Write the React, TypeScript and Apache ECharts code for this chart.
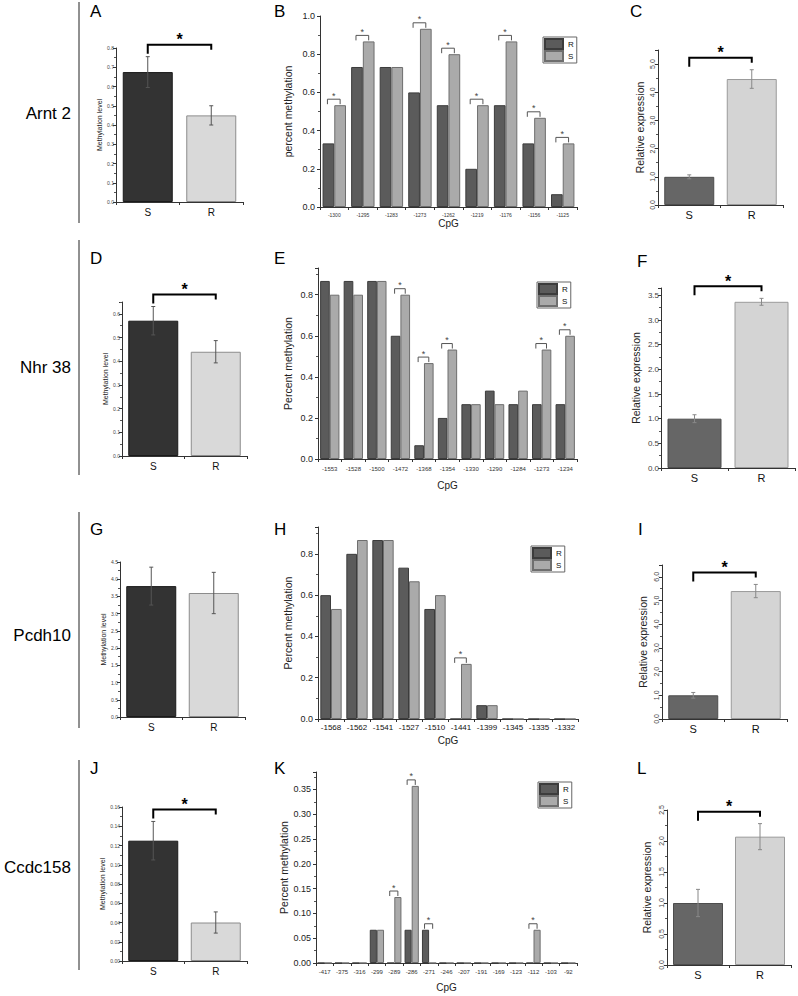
import React, { useEffect, useRef } from 'react';
import * as echarts from 'echarts';

const FONT = '"Liberation Sans", Arial, Helvetica, sans-serif';

// ---------- data ----------
const groups = ['S', 'R'];
const geneNames = ['Arnt 2', 'Nhr 38', 'Pcdh10', 'Ccdc158'];
const panelLetters = ['A', 'B', 'C', 'D', 'E', 'F', 'G', 'H', 'I', 'J', 'K', 'L'];

// Arnt 2
const arnt2Meth = [0.675, 0.45];
const arnt2MethErr = [0.08, 0.05];
const arnt2CpG = ['-1300', '-1295', '-1283', '-1273', '-1262', '-1219', '-1176', '-1156', '-1125'];
const arnt2R = [0.333, 0.733, 0.733, 0.6, 0.533, 0.2, 0.533, 0.333, 0.067];
const arnt2S = [0.533, 0.867, 0.733, 0.933, 0.8, 0.533, 0.867, 0.467, 0.333];
const arnt2Sig = ['-1300', '-1295', '-1273', '-1262', '-1219', '-1176', '-1156', '-1125'];
const arnt2Expr = [1.0, 4.47];
const arnt2ExprErr = [0.07, 0.33];

// Nhr 38
const nhr38Meth = [0.571, 0.44];
const nhr38MethErr = [0.06, 0.047];
const nhr38CpG = ['-1553', '-1528', '-1500', '-1472', '-1368', '-1354', '-1330', '-1290', '-1284', '-1273', '-1234'];
const nhr38R = [0.867, 0.867, 0.867, 0.6, 0.067, 0.2, 0.267, 0.333, 0.267, 0.267, 0.267];
const nhr38S = [0.8, 0.8, 0.867, 0.8, 0.467, 0.533, 0.267, 0.267, 0.333, 0.533, 0.6];
const nhr38Sig = ['-1472', '-1368', '-1354', '-1273', '-1234'];
const nhr38Expr = [1.0, 3.37];
const nhr38ExprErr = [0.08, 0.07];

// Pcdh10
const pcdh10Meth = [3.8, 3.6];
const pcdh10MethErr = [0.55, 0.6];
const pcdh10CpG = ['-1568', '-1562', '-1541', '-1527', '-1510', '-1441', '-1399', '-1345', '-1335', '-1332'];
const pcdh10R = [0.6, 0.8, 0.867, 0.733, 0.533, 0, 0.067, 0, 0, 0];
const pcdh10S = [0.533, 0.867, 0.867, 0.667, 0.6, 0.267, 0.067, 0, 0, 0];
const pcdh10Sig = ['-1441'];
const pcdh10Expr = [1.0, 5.4];
const pcdh10ExprErr = [0.12, 0.28];

// Ccdc158
const ccdc158Meth = [0.125, 0.04];
const ccdc158MethErr = [0.02, 0.011];
const ccdc158CpG = ['-417', '-375', '-316', '-299', '-289', '-286', '-271', '-246', '-207', '-191', '-169', '-123', '-112', '-103', '-92'];
const ccdc158R = [0, 0, 0, 0.067, 0, 0.067, 0.067, 0, 0, 0, 0, 0, 0, 0, 0];
const ccdc158S = [0, 0, 0, 0.067, 0.133, 0.357, 0, 0, 0, 0, 0, 0, 0.067, 0, 0];
const ccdc158Sig = ['-289', '-286', '-271', '-112'];
const ccdc158Expr = [1.0, 2.07];
const ccdc158ExprErr = [0.22, 0.21];

// ---------- builders ----------
const CAT_GAP = 0.18;

function errorBarRender(color: string, cap: number) {
  return (params: any, api: any) => {
    const i = api.value(0);
    const v = api.value(1);
    const e = api.value(2);
    const top = api.coord([i, v + e]);
    const bot = api.coord([i, v - e]);
    const x = top[0];
    const st = { stroke: color, lineWidth: 1 };
    return {
      type: 'group',
      children: [
        { type: 'line', shape: { x1: x, y1: top[1], x2: x, y2: bot[1] }, style: st },
        { type: 'line', shape: { x1: x - cap, y1: top[1], x2: x + cap, y2: top[1] }, style: st },
        { type: 'line', shape: { x1: x - cap, y1: bot[1], x2: x + cap, y2: bot[1] }, style: st },
      ],
    };
  };
}

function bigBracketRender(means: number[], errs: number[]) {
  return (params: any, api: any) => {
    const tops = means.map((m, i) => api.coord([i, m + errs[i]]));
    const y = Math.min(tops[0][1], tops[1][1]) - 12;
    const x1 = tops[0][0];
    const x2 = tops[1][0];
    return {
      type: 'group',
      children: [
        {
          type: 'polyline',
          shape: { points: [[x1, y + 9], [x1, y], [x2, y], [x2, y + 5]] },
          style: { stroke: '#000', lineWidth: 2, fill: null },
        },
        {
          type: 'text',
          style: {
            text: '*', x: (x1 + x2) / 2, y: y - 13, align: 'center', verticalAlign: 'top',
            fontSize: 16, fontWeight: 'bold', fontFamily: FONT, fill: '#000',
          },
        },
      ],
    };
  };
}

function smallBracketRender(r: number[], s: number[]) {
  return (params: any, api: any) => {
    const i = api.value(0);
    const c = api.coord([i, 0]);
    const cw = api.size([1, 0])[0];
    const bw = (cw * (1 - CAT_GAP)) / 2;
    const xL = c[0] - bw / 2 - 1;
    const xR = c[0] + bw / 2;
    const yTop = api.coord([i, Math.max(r[i], s[i])])[1] - 6;
    return {
      type: 'group',
      children: [
        {
          type: 'polyline',
          shape: { points: [[xL, yTop + 5], [xL, yTop], [xR, yTop], [xR, yTop + 5]] },
          style: { stroke: '#555', lineWidth: 1, fill: null },
        },
        {
          type: 'text',
          style: {
            text: '*', x: (xL + xR) / 2, y: yTop - 8, align: 'center', verticalAlign: 'top',
            fontSize: 9, fontFamily: FONT, fill: '#444',
          },
        },
      ],
    };
  };
}

function buildOption() {
  const grids: any[] = [];
  const xAxes: any[] = [];
  const yAxes: any[] = [];
  const series: any[] = [];
  const legends: any[] = [];

  const yAxisBase = (gi: number, p: any) => ({
    gridIndex: gi,
    type: 'value',
    min: 0,
    max: p.max,
    interval: p.interval,
    splitLine: { show: false },
    axisLine: { show: true, lineStyle: { color: '#333', width: 1 } },
    axisTick: { show: true, length: 3, lineStyle: { color: '#333' } },
    minorTick: { show: true, splitNumber: 2, length: 2, lineStyle: { color: '#555' } },
    axisLabel: {
      fontSize: p.yFont,
      fontFamily: FONT,
      color: p.yColor || '#444',
      rotate: p.rotate || 0,
      margin: p.yMargin,
      showMaxLabel: p.showMax !== false,
      formatter: (v: number) => v.toFixed(p.digits),
    },
    name: p.yName,
    nameLocation: 'middle',
    nameRotate: 90,
    nameGap: p.nameGap,
    nameTextStyle: { fontSize: p.nameSize, fontFamily: FONT, color: '#222' },
  });

  function addSimple(p: any) {
    const gi = grids.length;
    grids.push({ left: p.left, top: p.top, width: p.width, height: p.height });
    xAxes.push({
      gridIndex: gi,
      type: 'category',
      data: groups,
      axisLine: { lineStyle: { color: '#333' } },
      axisTick: { show: true, length: 3, lineStyle: { color: '#333' } },
      axisLabel: { fontSize: p.xFont, fontFamily: FONT, color: '#111', margin: p.xMargin },
    });
    yAxes.push(yAxisBase(gi, p));
    series.push({
      type: 'bar',
      xAxisIndex: gi,
      yAxisIndex: gi,
      barWidth: p.barWidth,
      silent: true,
      data: p.means.map((v: number, i: number) => ({
        value: v,
        itemStyle: { color: p.fills[i], borderColor: p.borders[i], borderWidth: 1 },
      })),
    });
    series.push({
      type: 'custom',
      xAxisIndex: gi,
      yAxisIndex: gi,
      silent: true,
      z: 5,
      encode: { x: 0, y: 1 },
      data: p.means.map((v: number, i: number) => [i, v, p.errs[i]]),
      renderItem: errorBarRender(p.errColor, 2),
    });
    if (p.sig) {
      series.push({
        type: 'custom',
        xAxisIndex: gi,
        yAxisIndex: gi,
        silent: true,
        z: 6,
        encode: { x: 0, y: 1 },
        data: [[0, 0]],
        renderItem: bigBracketRender(p.means, p.errs),
      });
    }
  }

  function addCpG(p: any) {
    const gi = grids.length;
    grids.push({ left: p.left, top: p.top, width: p.width, height: p.height });
    xAxes.push({
      gridIndex: gi,
      type: 'category',
      data: p.cats,
      axisLine: { lineStyle: { color: '#333' } },
      axisTick: { show: true, length: 3, lineStyle: { color: '#333' } },
      axisLabel: { fontSize: p.xFont, fontFamily: FONT, color: p.xColor || '#333', margin: p.xMargin, interval: 0 },
      name: 'CpG',
      nameLocation: 'middle',
      nameGap: p.xNameGap,
      nameTextStyle: { fontSize: 10, fontFamily: FONT, color: '#222', verticalAlign: 'top' },
    });
    yAxes.push(yAxisBase(gi, p));
    series.push({
      name: 'R',
      type: 'bar',
      xAxisIndex: gi,
      yAxisIndex: gi,
      barGap: '0%',
      barCategoryGap: CAT_GAP * 100 + '%',
      silent: true,
      data: p.r,
      itemStyle: { color: '#5b5b5b', borderColor: '#3c3c3c', borderWidth: 1 },
    });
    series.push({
      name: 'S',
      type: 'bar',
      xAxisIndex: gi,
      yAxisIndex: gi,
      barGap: '0%',
      barCategoryGap: CAT_GAP * 100 + '%',
      silent: true,
      data: p.s,
      itemStyle: { color: '#aaaaaa', borderColor: '#6e6e6e', borderWidth: 1 },
    });
    series.push({
      type: 'custom',
      xAxisIndex: gi,
      yAxisIndex: gi,
      silent: true,
      z: 6,
      encode: { x: 0, y: 1 },
      data: p.sig.map((c: string) => [p.cats.indexOf(c), 0]),
      renderItem: smallBracketRender(p.r, p.s),
    });
    legends.push({
      left: p.legendLeft,
      top: p.legendTop,
      orient: 'vertical',
      data: ['R', 'S'],
      icon: 'rect',
      itemWidth: 18,
      itemHeight: 10,
      itemGap: 0,
      padding: [1, 3, 1, 1],
      borderColor: '#666',
      borderWidth: 1,
      selectedMode: false,
      textStyle: { fontSize: 8, fontFamily: FONT, color: '#111' },
    });
  }

  const methStyle = {
    yFont: 5, yMargin: 2, nameSize: 7, xFont: 10, xMargin: 5, barWidth: 50,
    fills: ['#333333', '#d9d9d9'], borders: ['#1a1a1a', '#8c8c8c'], errColor: '#555',
    yName: 'Methylation level',
  };
  const exprStyle = {
    yFont: 7, yMargin: 2, rotate: 90, nameSize: 10.5, xFont: 11, xMargin: 4, barWidth: 50,
    fills: ['#666666', '#d4d4d4'], borders: ['#4d4d4d', '#9a9a9a'], errColor: '#888',
    yName: 'Relative expression',
  };
  const cpgStyle = { yFont: 9, yMargin: 5, yColor: '#222', nameSize: 10.5 };

  // Row 1: Arnt 2
  addSimple({ ...methStyle, left: 116, top: 48, width: 127, height: 154, max: 0.8, interval: 0.1, digits: 1, nameGap: 9, means: arnt2Meth, errs: arnt2MethErr, sig: true });
  addCpG({ ...cpgStyle, left: 320, top: 16, width: 257, height: 191, max: 1.0, interval: 0.2, digits: 1, yName: 'percent methylation', nameGap: 27, xFont: 5, xMargin: 5, xNameGap: 11, cats: arnt2CpG, r: arnt2R, s: arnt2S, sig: arnt2Sig, legendLeft: 543, legendTop: 37 });
  addSimple({ ...exprStyle, left: 658, top: 50, width: 125, height: 155, max: 5.5, interval: 1, digits: 1, showMax: false, nameGap: 13, means: arnt2Expr, errs: arnt2ExprErr, sig: true });

  // Row 2: Nhr 38
  addSimple({ ...methStyle, left: 122, top: 302, width: 125, height: 154, max: 0.65, interval: 0.1, digits: 1, showMax: false, nameGap: 12, means: nhr38Meth, errs: nhr38MethErr, sig: true });
  addCpG({ ...cpgStyle, left: 318, top: 268, width: 259, height: 191, max: 0.93, interval: 0.2, digits: 1, showMax: false, yName: 'Percent methylation', nameGap: 25, xFont: 6, xMargin: 7, xNameGap: 21, cats: nhr38CpG, r: nhr38R, s: nhr38S, sig: nhr38Sig, legendLeft: 537, legendTop: 282 });
  addSimple({ ...exprStyle, rotate: 0, yFont: 8, left: 661, top: 288, width: 134, height: 180, max: 3.65, interval: 0.5, digits: 1, showMax: false, nameGap: 20, barWidth: 54, means: nhr38Expr, errs: nhr38ExprErr, sig: true });

  // Row 3: Pcdh10
  addSimple({ ...methStyle, left: 120, top: 562, width: 125, height: 155, max: 4.5, interval: 0.5, digits: 1, nameGap: 10, means: pcdh10Meth, errs: pcdh10MethErr, sig: false });
  addCpG({ ...cpgStyle, left: 318, top: 527, width: 260, height: 192, max: 0.93, interval: 0.2, digits: 1, showMax: false, yName: 'Percent methylation', nameGap: 25, xFont: 8, xColor: '#111', xMargin: 4, xNameGap: 16, cats: pcdh10CpG, r: pcdh10R, s: pcdh10S, sig: pcdh10Sig, legendLeft: 531, legendTop: 546 });
  addSimple({ ...exprStyle, left: 662, top: 565, width: 125, height: 154, max: 6.5, interval: 1, digits: 1, showMax: false, nameGap: 14, means: pcdh10Expr, errs: pcdh10ExprErr, sig: true });

  // Row 4: Ccdc158
  addSimple({ ...methStyle, left: 122, top: 807, width: 125, height: 154, max: 0.16, interval: 0.02, digits: 2, nameGap: 14, means: ccdc158Meth, errs: ccdc158MethErr, sig: true });
  addCpG({ ...cpgStyle, left: 316, top: 772, width: 261, height: 191, max: 0.385, interval: 0.05, digits: 2, showMax: false, yName: 'Percent methylation', nameGap: 26, xFont: 6, xMargin: 6, xNameGap: 19, cats: ccdc158CpG, r: ccdc158R, s: ccdc158S, sig: ccdc158Sig, legendLeft: 538, legendTop: 782 });
  addSimple({ ...exprStyle, left: 667, top: 810, width: 124, height: 155, max: 2.5, interval: 0.5, digits: 1, nameGap: 15, means: ccdc158Expr, errs: ccdc158ExprErr, sig: true });

  // graphics: panel letters, gene names, separators
  const letterPos = [
    [90, 3], [274, 3], [630, 3],
    [90, 250], [274, 250], [637, 253],
    [90, 521], [274, 521], [638, 521],
    [90, 760], [274, 760], [637, 760],
  ];
  const geneY = [113, 367, 635, 867];
  const sepLines = [[2, 223], [240, 475], [512, 728], [760, 970]];
  const graphics: any[] = [];
  panelLetters.forEach((t, i) => {
    graphics.push({
      type: 'text',
      x: letterPos[i][0],
      y: letterPos[i][1],
      style: { text: t, fontSize: 17, fontFamily: FONT, fill: '#000', align: 'left', verticalAlign: 'top', textAlign: 'left', textVerticalAlign: 'top' },
    });
  });
  geneNames.forEach((t, i) => {
    graphics.push({
      type: 'text',
      x: 71,
      y: geneY[i],
      style: { text: t, fontSize: 17, fontFamily: FONT, fill: '#000', align: 'right', verticalAlign: 'middle', textAlign: 'right', textVerticalAlign: 'middle' },
    });
  });
  sepLines.forEach((s) => {
    graphics.push({
      type: 'line',
      shape: { x1: 79, y1: s[0], x2: 79, y2: s[1] },
      style: { stroke: '#222', lineWidth: 1 },
    });
  });

  return {
    animation: false,
    backgroundColor: '#ffffff',
    textStyle: { fontFamily: FONT },
    grid: grids,
    xAxis: xAxes,
    yAxis: yAxes,
    legend: legends,
    series,
    graphic: graphics,
  };
}

export default function App() {
  const ref = useRef<HTMLDivElement>(null);
  useEffect(() => {
    if (!ref.current) return;
    const chart = echarts.init(ref.current, undefined, { renderer: 'svg' });
    chart.setOption(buildOption() as any);
    return () => chart.dispose();
  }, []);
  return (
    <div
      ref={ref}
      style={{ position: 'absolute', left: 0, top: 0, width: 798, height: 996, background: '#fff' }}
    />
  );
}
